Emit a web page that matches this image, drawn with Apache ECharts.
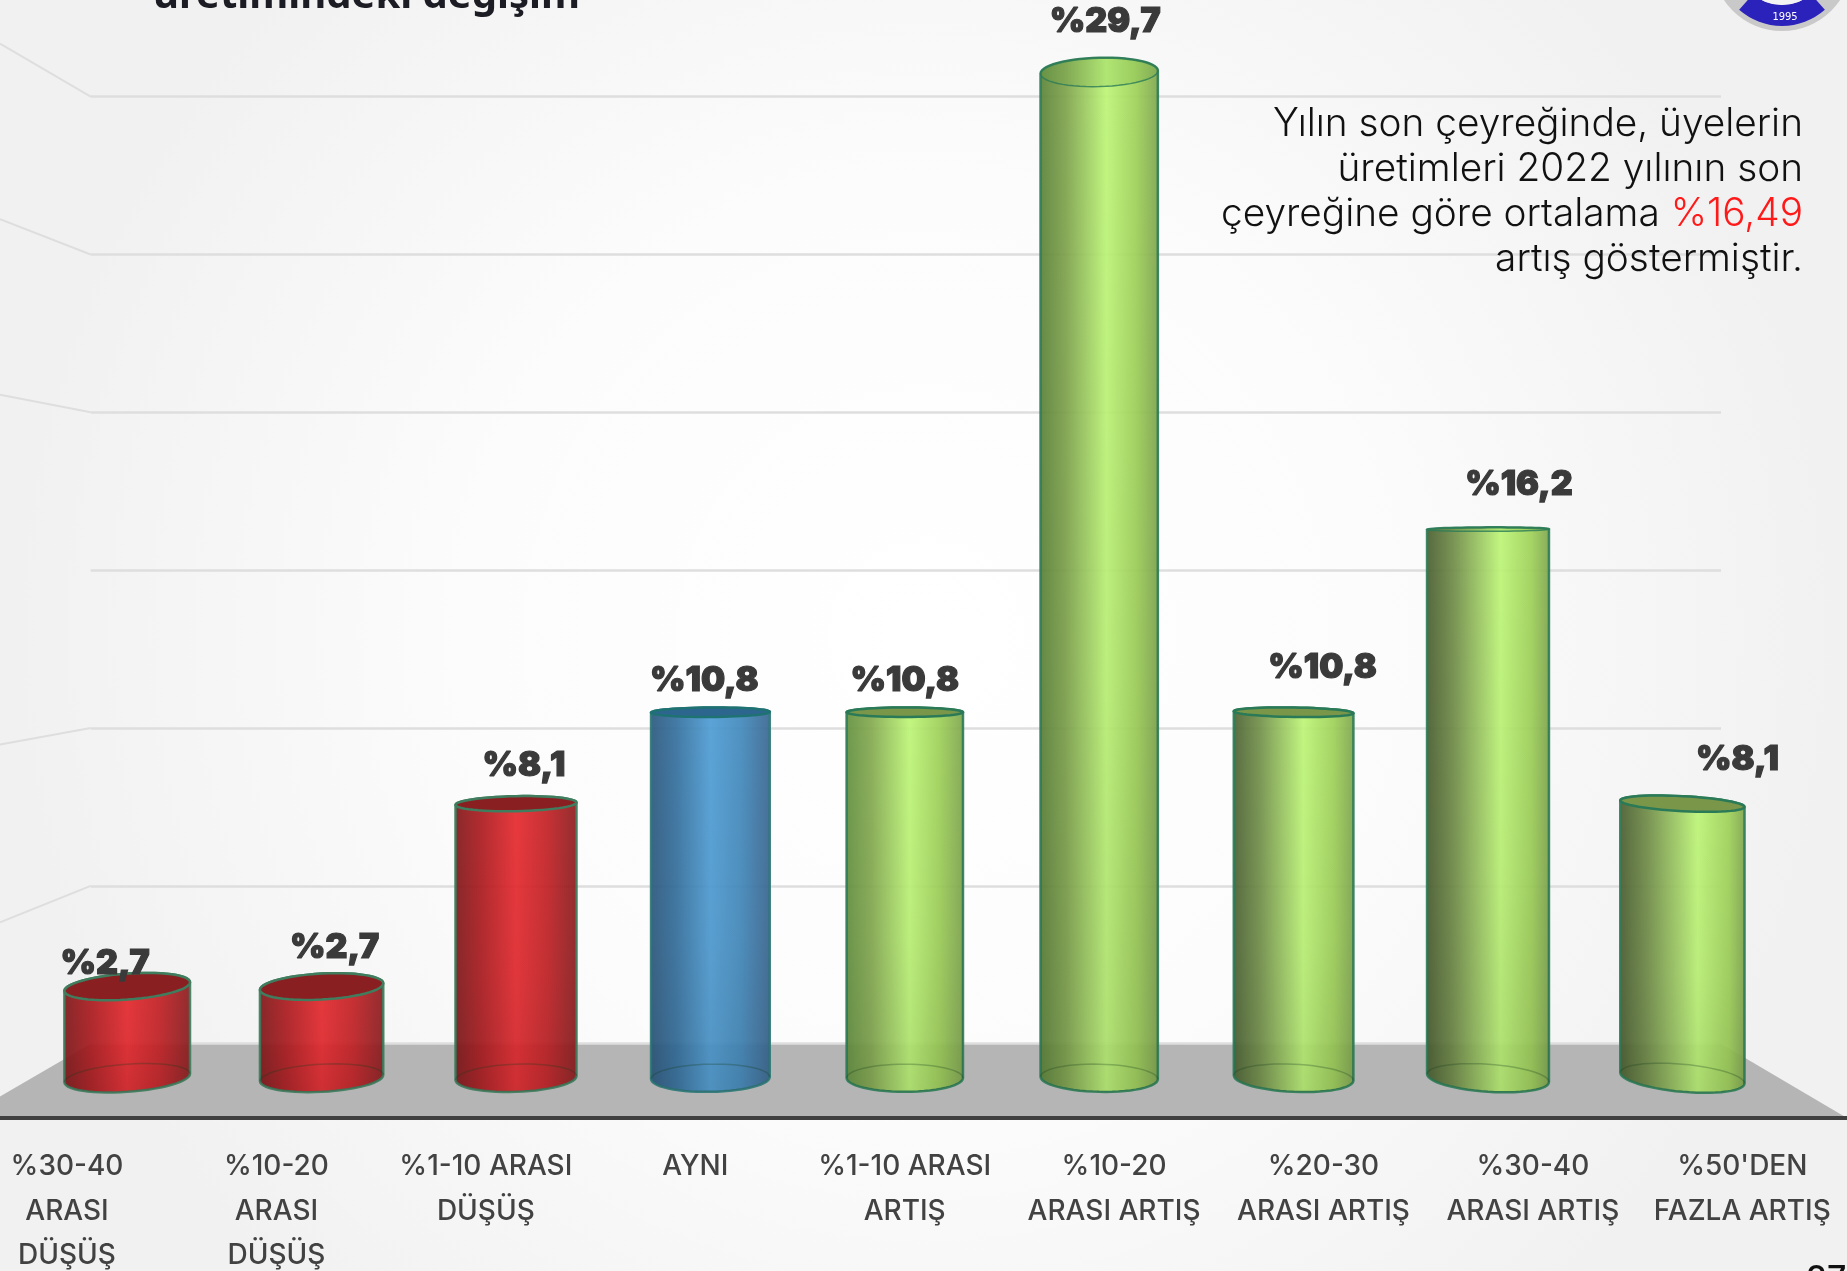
<!DOCTYPE html>
<html><head><meta charset="utf-8">
<style>html,body{margin:0;padding:0;background:#fff}#c{width:1847px;height:1271px}</style>
<script src="https://cdn.jsdelivr.net/npm/echarts@6/dist/echarts.min.js"></script>
</head><body><div id="c"></div>
<script>
const categories = ['%30-40\nARASI\nDÜŞÜŞ','%10-20\nARASI\nDÜŞÜŞ','%1-10 ARASI\nDÜŞÜŞ','AYNI','%1-10 ARASI\nARTIŞ','%10-20\nARASI ARTIŞ','%20-30\nARASI ARTIŞ','%30-40\nARASI ARTIŞ',"%50'DEN\nFAZLA ARTIŞ"];
const values = [2.7,2.7,8.1,10.8,10.8,29.7,10.8,16.2,8.1];
const valueLabels = ['%2,7','%2,7','%8,1','%10,8','%10,8','%29,7','%10,8','%16,2','%8,1'];
const tones = ['red','red','red','blue','green','green','green','green','green'];
const labelNudge = [[-22,-23],[13,-39],[8,-38],[-6,-31],[0,-31],[6,-50],[29,-44],[31,-45],[55,-44]];
const leftShade = ['#7f191b','#7f191b','#7f191b','#2d587e','#62903f','#5a8238','#4b6133','#495d30','#495d30'];
const midShade = ['#ae1c20','#ae1c20','#ae1c20','#35719f','#84aa50','#7ea34c','#72904a','#708c48','#708c48'];

const palette = {
  red:  {mid2:'#c42226', peak:'#e62a2f', edge:'#8a1e20', line:'#3f7d5e', cap:'#8a1f21', capLine:'#3f7d5e'},
  blue: {mid2:'#438abd', peak:'#4f9dd4', edge:'#3a6690', line:'#2f7a78', cap:'#2c668f', capLine:'#1f7272'},
  green:{mid2:'#9fd159', peak:'#bdf577', edge:'#7ea44e', line:'#2f7d58', cap:'#7a9649', capLine:'#2a7a58'}
};
const EYE_Y = 554, RY_K = 0.03, TILT_K = 4e-5, CENTER_IDX = 4, N = 28;

function arc(cx, cy, rx, ry, slope, from, to){
  const pts = [];
  for(let k=0;k<=N;k++){
    const t = from + (to-from)*k/N;
    const dx = rx*Math.cos(t);
    pts.push([cx+dx, cy+ry*Math.sin(t)+slope*dx]);
  }
  return pts;
}
function renderBar(params, api){
  const i = api.value(0), v = api.value(1);
  const top = api.coord([i, v]), base = api.coord([i, 0]);
  const band = api.size([1,0])[0];
  const dist = i-CENTER_IDX;
  const rx = band*0.595*(1+0.02*Math.abs(i-4.3))/2;
  const cx = top[0];
  const ryT = Math.max(2, Math.abs(top[1]-EYE_Y)*RY_K);
  const ryB = Math.abs(base[1]-EYE_Y)*RY_K*0.88;
  const tilt = dist>0 ? TILT_K*1.3 : TILT_K;
  const sT = tilt*dist*(top[1]-EYE_Y), sB = tilt*dist*(base[1]-EYE_Y)*0.8;
  const p = palette[tones[i]];
  const peak = i<4 ? 0.5 : 0.54+0.02*(i-4);
  const upperT = arc(cx, top[1], rx, ryT, sT, Math.PI, 2*Math.PI);
  const lowerB = arc(cx, base[1], rx, ryB, sB, 0, Math.PI);
  const upperB = arc(cx, base[1], rx, ryB, sB, Math.PI, 2*Math.PI);
  const lowerT = arc(cx, top[1], rx, ryT, sT, 0, Math.PI);
  const body = upperT.concat(lowerB);
  const above = top[1] > EYE_Y;
  const nudge = labelNudge[i];
  return {
    type:'group',
    children:[
      {type:'polygon', shape:{points:body}, style:{
        fill:new echarts.graphic.LinearGradient(0,0,1,0,[
          {offset:0,color:leftShade[i]},
          {offset:0.22,color:midShade[i]},
          {offset:peak,color:p.peak},
          {offset:Math.min(.88,peak+.25),color:p.mid2},
          {offset:1,color:p.edge}]),
        opacity:0.93, stroke:p.line, lineWidth:2.5}},
      {type:'polygon', shape:{points:body}, style:{
        fill:new echarts.graphic.LinearGradient(0,0,0,1,[
          {offset:0,color:'rgba(0,0,0,0)'},
          {offset:0.6,color:'rgba(0,0,0,0.03)'},
          {offset:1,color:'rgba(0,0,0,0.09)'}]), stroke:null}},
      {type:'polyline', shape:{points:upperB}, style:{fill:null, stroke:'rgba(20,60,30,0.28)', lineWidth:1.5}},
      {type:'polygon', shape:{points:upperT.concat(lowerT)}, style:{
        fill: above ? p.cap : 'rgba(110,170,70,0.25)', stroke:p.capLine, lineWidth: above?2.5:1.5, opacity: above?1:0.8}},
      {type:'text', z2:20, style:{x:cx+nudge[0], y:top[1]+nudge[1], text:valueLabels[i],
        font:'900 34px Inter', fill:'#3a3a3a', stroke:'#3a3a3a', lineWidth:1.2, align:'center', verticalAlign:'middle'}}
    ]
  };
}

const wallLeft = [[37,82],[186,216],[335,350],[632,618],[783,752]].map(a=>a.map(v=>v*1.178));
const floorPts = [[-37,1118],[1847,1118],[1721,1043.7],[90.7,1043.7]];

const chart = echarts.init(document.getElementById('c'), null, {renderer:'canvas'});
chart.setOption({
  animation:false,
  backgroundColor:new echarts.graphic.RadialGradient(0.5,0.5,0.72,[
    {offset:0,color:'#ffffff'},{offset:0.5,color:'#fcfcfc'},{offset:1,color:'#f1f1f1'}]),
  title:{text:'üretimindeki değişim', left:148, top:-28, textStyle:{fontFamily:'Noto Sans',fontWeight:700,fontSize:40,color:'#1c1c24'}},
  grid:[
    {left:90.7, width:1630.3, top:96.6, height:947.1, outerBoundsMode:'none'},
    {left:30, width:1749.6, top:62, height:1016, outerBoundsMode:'none'},
    {left:-37.7, width:1884.7, top:62, height:1056, outerBoundsMode:'none'}
  ],
  xAxis:[
    {gridIndex:0,type:'category',data:categories,show:false},
    {gridIndex:1,type:'category',data:categories,show:false},
    {gridIndex:2,type:'category',data:categories,axisTick:{show:false},
      axisLine:{lineStyle:{color:'#404040',width:4}},
      axisLabel:{interval:0,margin:26,fontFamily:'Inter',fontWeight:500,fontSize:28,lineHeight:44.8,color:'#424242',verticalAlign:'top'}}
  ],
  yAxis:[
    {gridIndex:0,type:'value',min:0,max:30,interval:5,axisLine:{show:false},axisTick:{show:false},axisLabel:{show:false},
      splitLine:{show:true,lineStyle:{color:'#dedede',width:2.5}}},
    {gridIndex:1,type:'value',min:0,max:30,show:false,splitLine:{show:false}},
    {gridIndex:2,type:'value',min:0,max:30,show:false,splitLine:{show:false}}
  ],
  series:[{
    type:'custom', xAxisIndex:1, yAxisIndex:1, z:5, clip:false,
    encode:{x:0,y:1},
    data:values.map((v,i)=>[i,v]),
    renderItem:renderBar
  }],
  graphic:[
    {type:'polygon',z:0,silent:true,shape:{points:floorPts},style:{fill:'#b5b5b5'}},
    ...wallLeft.map(a=>({type:'line',z:0,silent:true,shape:{x1:0,y1:a[0],x2:90.7,y2:a[1]},style:{stroke:'#dedede',lineWidth:2}})),
    {type:'text',z:6,style:{x:1803,y:192,text:'Yılın son çeyreğinde, üyelerin\nüretimleri 2022 yılının son\nçeyreğine göre ortalama {r|%16,49}\nartış göstermiştir.',
      align:'right',verticalAlign:'middle',font:'300 38.8px Inter',fill:'#111',lineHeight:44.8,
      rich:{r:{fill:'#ff1a1a',font:'300 38.8px Inter',lineHeight:44.8}}}},
    {type:'circle',z:6,shape:{cx:1782,cy:-39,r:70},style:{fill:'#c9c9c9'}},
    {type:'sector',z:6,shape:{cx:1782,cy:-39,r:65,r0:44,startAngle:Math.PI/2-0.72,endAngle:Math.PI/2+0.72},style:{fill:'#2a22bb'}},
    {type:'circle',z:7,shape:{cx:1782,cy:-39,r:44},style:{fill:'#f4f4f4'}},
    {type:'text',z:8,style:{x:1785,y:17,text:'1995',align:'center',verticalAlign:'middle',font:'11px "Liberation Sans Narrow","DejaVu Sans Condensed",sans-serif',fill:'#fff'}},
    {type:'text',z:8,style:{x:1806,y:1263,text:'27',align:'left',verticalAlign:'top',font:'500 34px Inter',fill:'#111'}}
  ]
});
</script></body></html>
